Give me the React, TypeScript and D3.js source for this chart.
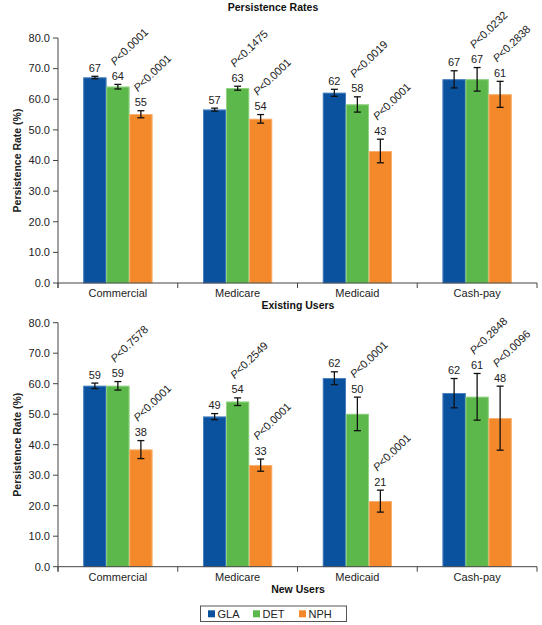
import React from "react";
import * as d3 from "d3";

const categories = ["Commercial", "Medicare", "Medicaid", "Cash-pay"];
const seriesNames = ["GLA", "DET", "NPH"];
const yTicks = [0, 10, 20, 30, 40, 50, 60, 70, 80];

// Existing users
const existingGLA = [67.1, 56.6, 62.1, 66.5];
const existingGLAErr = [0.4, 0.5, 1.15, 2.8];
const existingDET = [64.1, 63.6, 58.3, 66.5];
const existingDETErr = [0.75, 0.65, 2.5, 3.85];
const existingNPH = [55.1, 53.6, 43.1, 61.6];
const existingNPHErr = [1.15, 1.4, 3.85, 4.25];
const existingGLALabels = ["67", "57", "62", "67"];
const existingDETLabels = ["64", "63", "58", "67"];
const existingNPHLabels = ["55", "54", "43", "61"];
const existingDETP = ["P<0.0001", "P<0.1475", "P<0.0019", "P<0.0232"];
const existingNPHP = ["P<0.0001", "P<0.0001", "P<0.0001", "P<0.2838"];

// New users
const newGLA = [59.3, 49.2, 61.8, 56.9];
const newGLAErr = [0.9, 1.0, 2.1, 4.8];
const newDET = [59.3, 54.1, 50.1, 55.7];
const newDETErr = [1.4, 1.25, 5.5, 7.65];
const newNPH = [38.4, 33.3, 21.5, 48.7];
const newNPHErr = [2.95, 2.0, 3.6, 10.5];
const newGLALabels = ["59", "49", "62", "62"];
const newDETLabels = ["59", "54", "50", "61"];
const newNPHLabels = ["38", "33", "21", "48"];
const newDETP = ["P<0.7578", "P<0.2549", "P<0.0001", "P<0.2848"];
const newNPHP = ["P<0.0001", "P<0.0001", "P<0.0001", "P<0.0096"];

const colors: Record<string, string> = { GLA: "#0a529e", DET: "#5cb84a", NPH: "#f3892a" };
const edges: Record<string, string> = { GLA: "#4f86c6", DET: "#9ad78c", NPH: "#f9b778" };
const FONT = "'Liberation Sans', Arial, Helvetica, sans-serif";

type Series = { name: string; values: number[]; errs: number[]; labels: string[]; pvals?: string[] };

function Panel({ y0, y80, series, caption }: { y0: number; y80: number; series: Series[]; caption: string }) {
  const x0 = d3.scaleBand().domain(categories).range([58, 537]);
  const groupW = 69;
  const x1 = d3
    .scaleBand()
    .domain(seriesNames)
    .range([(x0.bandwidth() - groupW) / 2, (x0.bandwidth() + groupW) / 2]);
  const y = d3.scaleLinear().domain([0, 80]).range([y0, y80]);
  const axisColor = "#444";
  const boundaries = [...categories.map((c) => x0(c)!), 537];
  return (
    <g>
      {/* bars */}
      {series.map((s) =>
        categories.map((c, i) => {
          const bx = x0(c)! + x1(s.name)!;
          const bw = x1.bandwidth();
          const v = s.values[i];
          const e = s.errs[i];
          const cx = bx + bw / 2;
          const top = y(v + e);
          const bot = y(v - e);
          const labelY = top - 4.5;
          return (
            <g key={s.name + c}>
              <rect x={bx} y={y(v)} width={bw} height={y(0) - y(v)} fill={colors[s.name]} />
              <rect
                x={bx + 0.4}
                y={y(v) + 0.4}
                width={bw - 0.8}
                height={y(0) - y(v) - 0.4}
                fill="none"
                stroke={edges[s.name]}
                strokeWidth={0.8}
              />
              <line x1={cx} x2={cx} y1={top} y2={bot} stroke="#111" strokeWidth={1.3} />
              <line x1={cx - 3.5} x2={cx + 3.5} y1={top} y2={top} stroke="#111" strokeWidth={1.3} />
              <line x1={cx - 3.5} x2={cx + 3.5} y1={bot} y2={bot} stroke="#111" strokeWidth={1.3} />
              <text x={cx} y={labelY} textAnchor="middle" fontSize={11} fill="#222" fontFamily={FONT}>
                {s.labels[i]}
              </text>
              {s.pvals && (
                <text
                  transform={`translate(${cx - 3},${labelY - 14}) rotate(-44)`}
                  fontSize={11}
                  fill="#222"
                  fontFamily={FONT}
                >
                  <tspan fontStyle="italic">{s.pvals[i].slice(0, 1)}</tspan>
                  {s.pvals[i].slice(1)}
                </text>
              )}
            </g>
          );
        })
      )}
      {/* y axis */}
      <line x1={58} x2={58} y1={y(80)} y2={y(0) + 5} stroke={axisColor} strokeWidth={1} />
      {yTicks.map((t) => (
        <g key={t}>
          <line x1={53} x2={58} y1={y(t)} y2={y(t)} stroke={axisColor} strokeWidth={1} />
          <text x={50} y={y(t)} dy="0.35em" textAnchor="end" fontSize={11} fill="#222" fontFamily={FONT}>
            {t.toFixed(1)}
          </text>
        </g>
      ))}
      {/* x axis */}
      <line x1={58} x2={537} y1={y(0)} y2={y(0)} stroke={axisColor} strokeWidth={1} />
      {boundaries.map((b, i) => (
        <line key={i} x1={b} x2={b} y1={y(0)} y2={y(0) + 5} stroke={axisColor} strokeWidth={1} />
      ))}
      {categories.map((c) => (
        <text
          key={c}
          x={x0(c)! + x0.bandwidth() / 2}
          y={y(0) + 14}
          textAnchor="middle"
          fontSize={11}
          fill="#222"
          fontFamily={FONT}
        >
          {c}
        </text>
      ))}
      <text
        transform={`translate(21,${(y(0) + y(80)) / 2}) rotate(-90)`}
        textAnchor="middle"
        fontSize={10.5}
        fontWeight="bold"
        fill="#222"
        fontFamily={FONT}
      >
        Persistence Rate (%)
      </text>
      <text x={298} y={y(0) + 26} textAnchor="middle" fontSize={10.5} fontWeight="bold" fill="#111" fontFamily={FONT}>
        {caption}
      </text>
    </g>
  );
}

export default function App() {
  const existing: Series[] = [
    { name: "GLA", values: existingGLA, errs: existingGLAErr, labels: existingGLALabels },
    { name: "DET", values: existingDET, errs: existingDETErr, labels: existingDETLabels, pvals: existingDETP },
    { name: "NPH", values: existingNPH, errs: existingNPHErr, labels: existingNPHLabels, pvals: existingNPHP },
  ];
  const newer: Series[] = [
    { name: "GLA", values: newGLA, errs: newGLAErr, labels: newGLALabels },
    { name: "DET", values: newDET, errs: newDETErr, labels: newDETLabels, pvals: newDETP },
    { name: "NPH", values: newNPH, errs: newNPHErr, labels: newNPHLabels, pvals: newNPHP },
  ];
  const legendX = [208, 253, 299];
  return (
    <div style={{ position: "absolute", left: 0, top: 0 }}>
      <svg width={542} height={625} style={{ display: "block", background: "#fff" }}>
        <text x={273} y={11} textAnchor="middle" fontSize={10.5} fontWeight="bold" fill="#111" fontFamily={FONT}>
          Persistence Rates
        </text>
        <Panel y0={283} y80={38} series={existing} caption="Existing Users" />
        <Panel y0={566.7} y80={322.7} series={newer} caption="New Users" />
        <rect x={200.5} y={606} width={146} height={15.5} fill="#fff" stroke="#555" strokeWidth={1} />
        {seriesNames.map((s, i) => (
          <g key={s}>
            <rect x={legendX[i]} y={610.3} width={7} height={7} fill={colors[s]} />
            <text x={legendX[i] + 9.5} y={613.8} dy="0.35em" fontSize={11} fill="#222" fontFamily={FONT}>
              {s}
            </text>
          </g>
        ))}
      </svg>
    </div>
  );
}
